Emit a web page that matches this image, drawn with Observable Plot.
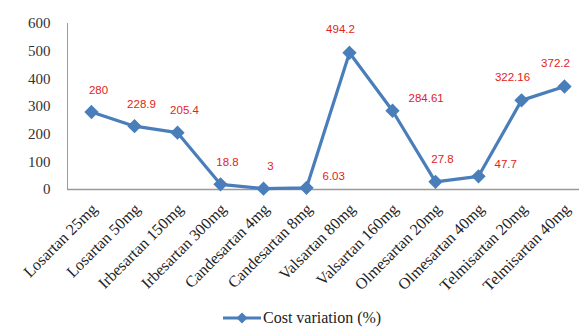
<!DOCTYPE html>
<html>
<head>
<meta charset="utf-8">
<script src="https://cdn.jsdelivr.net/npm/d3@7"></script>
<script src="https://cdn.jsdelivr.net/npm/@observablehq/plot@0.6"></script>
<style>
  html, body { margin: 0; padding: 0; background: #fff; }
  #chart { width: 579px; height: 327px; overflow: hidden; position: relative; }
  .legend { height: 19px; font-family: "Liberation Serif", "Times New Roman", serif; font-size: 16px; color: #222; display: flex; align-items: center; padding-left: 223px; margin-top: 2px; }
  .legend svg { margin-right: 2px; }
</style>
</head>
<body>
<div id="chart"></div>
<script>
const drugs = ["Losartan 25mg", "Losartan 50mg", "Irbesartan 150mg", "Irbesartan 300mg", "Candesartan 4mg", "Candesartan 8mg", "Valsartan 80mg", "Valsartan 160mg", "Olmesartan 20mg", "Olmesartan 40mg", "Telmisartan 20mg", "Telmisartan 40mg"];
const costVariation = [280, 228.9, 205.4, 18.8, 3, 6.03, 494.2, 284.61, 27.8, 47.7, 322.16, 372.2];
const yTicks = [0, 100, 200, 300, 400, 500, 600];
const seriesName = "Cost variation (%)";

// label placement groups (layout only)
const labelsRight = ["Candesartan 8mg", "Valsartan 160mg", "Olmesartan 40mg"];
const labelsLeft = ["Valsartan 80mg", "Telmisartan 20mg", "Telmisartan 40mg"];

const data = drugs.map((d, i) => ({drug: d, value: costVariation[i]}));
const blue = "#4a7ebb";
const red = "#e2231a";
const labelFont = {fill: red, fontSize: 11.5, fontFamily: "'Liberation Sans', Arial, sans-serif"};

const plot = Plot.plot({
  width: 579,
  height: 306,
  marginLeft: 67,
  marginRight: 0,
  marginTop: 23,
  marginBottom: 117,
  x: {type: "point", domain: drugs, range: [88, 567], padding: 0},
  y: {domain: [0, 600], ticks: yTicks},
  style: {background: "#fff", overflow: "visible"},
  marks: [
    Plot.frame({anchor: "left", stroke: "#9a9a9a"}),
    Plot.ruleY([0], {stroke: "#9a9a9a", strokeWidth: 1.5}),
    Plot.axisY({ticks: yTicks, tickSize: 0, tickPadding: 17, fontSize: 15, fontFamily: "'Liberation Serif', serif", fill: "#333", label: null}),
    Plot.axisX({tickSize: 0, tickRotate: -45, tickPadding: 17, dx: 3, fontSize: 16, fontFamily: "'Liberation Serif', serif", fill: "#222", label: null}),
    Plot.lineY(data, {x: "drug", y: "value", stroke: blue, strokeWidth: 3.2}),
    Plot.dot(data, {x: "drug", y: "value", symbol: "diamond2", r: 5.5, fill: blue, stroke: blue}),
    Plot.text(data.filter(d => !labelsRight.includes(d.drug) && !labelsLeft.includes(d.drug)),
      {x: "drug", y: "value", text: d => String(d.value), dx: 7, dy: -22, ...labelFont}),
    Plot.text(data.filter(d => labelsRight.includes(d.drug)),
      {x: "drug", y: "value", text: d => String(d.value), textAnchor: "start", dx: 16, dy: -12, ...labelFont}),
    Plot.text(data.filter(d => labelsLeft.includes(d.drug)),
      {x: "drug", y: "value", text: d => String(d.value), dx: -9, dy: -23, ...labelFont})
  ]
});
document.getElementById("chart").appendChild(plot);

const legend = document.createElement("div");
legend.className = "legend";
legend.innerHTML = `<svg width="38" height="12"><line x1="0" y1="6" x2="38" y2="6" stroke="${blue}" stroke-width="3.2"/><path d="M19,0.5L24.5,6L19,11.5L13.5,6Z" fill="${blue}"/></svg><span></span>`;
legend.querySelector("span").textContent = seriesName;
document.getElementById("chart").appendChild(legend);
</script>
</body>
</html>
